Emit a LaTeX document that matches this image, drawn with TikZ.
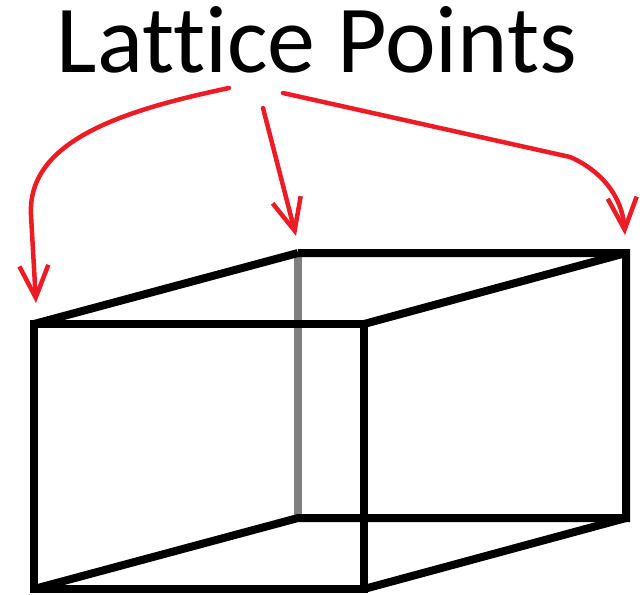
\documentclass[tikz,border=0pt]{standalone}
\usepackage{fontspec}
\setmainfont[Ligatures=NoCommon,Contextuals=NoAlternate]{Carlito}
\usepackage{tikz}
\usetikzlibrary{arrows.meta,positioning}
\definecolor{paintred}{RGB}{237,28,36}

\begin{document}
\begin{tikzpicture}[x=1pt,y=-1pt,
	edgeline/.style={line width=8pt,line cap=square,line join=miter},
	pointer/.style={paintred,line width=4.5pt,line cap=round,-{Straight Barb[length=32pt,width=29pt,line width=4.5pt]}}]
		\useasboundingbox (0,0) rectangle (644,594);
		% back corners
		\coordinate (bl) at (298,253);
		\coordinate (br) at (626,253);
		\coordinate (bbl) at (298,518);
		\coordinate (bbr) at (626,518);
		% front corners
		\coordinate (fl) at (34,324);
		\coordinate (fr) at (364,324);
		\coordinate (fbl) at (34,589);
		\coordinate (fbr) at (364,589);
		% hidden edge
		\draw[gray,edgeline,line cap=butt] (bl) -- (bbl);
		% box
		\draw[edgeline] (fl) -- (fr) -- (fbr) -- (fbl) -- cycle;
		\draw[edgeline] (bl) -- (br) -- (bbr) -- (bbl) -- (fbl);
		\draw[edgeline] (fl) -- (bl);
		\draw[edgeline] (fr) -- (br);
		\draw[edgeline] (fbr) -- (bbr);
		% label
		\node[font=\fontsize{96}{96}\selectfont,inner sep=0pt,anchor=base] (title) at (317,72) {Lattice Points};
		% arrows
		\coordinate (a1) at (229,88);
		\coordinate (a2) at (263,108);
		\coordinate (a3) at (283,93);
		\coordinate (k1) at (31,215);
		\coordinate (p1) at (36,303);
		\coordinate (p2) at (296,236);
		\coordinate (k3) at (570,157);
		\coordinate (p3) at (625,235);
		\draw[pointer] (a1) .. controls (125,110) and (27,140) .. (k1) -- (p1);
		\draw[pointer] (a2) -- (p2);
		\draw[pointer] (a3) -- (k3) .. controls (600,170) and (622,195) .. (p3);
	\end{tikzpicture}
\end{document}
